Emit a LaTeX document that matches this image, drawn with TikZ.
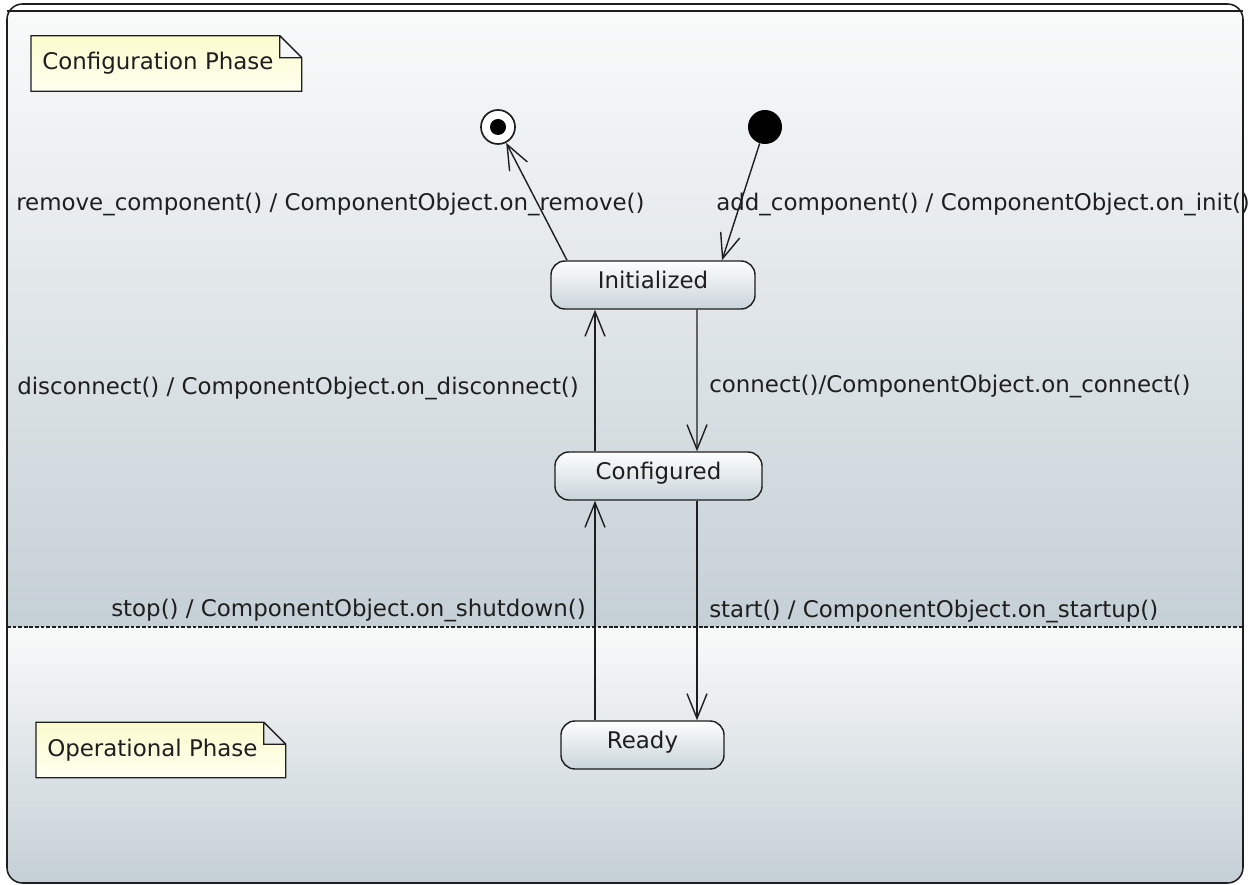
\documentclass[tikz,border=0pt]{standalone}
\usepackage{fontspec}
\setmainfont{DejaVu Sans}
\usetikzlibrary{positioning,arrows.meta,backgrounds}
\definecolor{inkcol}{RGB}{30,30,30}
\definecolor{statetop}{RGB}{253,254,254}
\definecolor{statebot}{RGB}{201,212,218}
\definecolor{regtop}{RGB}{249,250,250}
\definecolor{regbot}{RGB}{197,208,214}
\definecolor{notetop}{RGB}{251,251,205}
\definecolor{notebot}{RGB}{255,255,240}
\newcommand{\umlfont}{\fontsize{16.3pt}{19.5pt}\selectfont}

\begin{document}
\begin{tikzpicture}[x=0.025cm, y=-0.025cm,
  state/.style={rectangle, draw=inkcol, line width=1pt, rounded corners=10pt,
                top color=statetop, bottom color=statebot, font=\umlfont, text=inkcol,
                minimum width=#1, minimum height=1.2cm, inner sep=0pt,
                text height=0.425cm, text depth=0.25cm},
  initst/.style={circle, fill=black, minimum size=0.85cm, inner sep=0pt},
  finalst/.style={circle, draw=inkcol, line width=1.2pt, fill=white, minimum size=0.85cm,
                  inner sep=0pt, path picture={\fill[black] (path picture bounding box.center) circle (0.2cm);}},
  notetxt/.style={font=\umlfont, text=inkcol, anchor=west, inner sep=0pt, minimum height=1.375cm},
  notebox/.style={draw=inkcol, line width=1pt, top color=notetop, bottom color=notebot},
  lbl/.style={font=\umlfont, text=inkcol, anchor=west, inner sep=0pt},
  tr/.style={-{Straight Barb[length=0.62cm, width=0.5cm]}, line width=1pt, inkcol},
]
\useasboundingbox (0,0) rectangle (1256,885);

% composite state with its two regions
\begin{scope}[on background layer]
  \begin{scope}
    \clip[rounded corners=11pt] (7,4) rectangle (1243,883);
    \fill[white] (7,4) rectangle (1243,11);
    \shade[top color=regtop, bottom color=regbot] (7,11) rectangle (1243,627);
    \shade[top color=regtop, bottom color=regbot] (7,627) rectangle (1243,883);
  \end{scope}
  \draw[inkcol, line width=1.1pt, rounded corners=11pt] (7,4) rectangle (1243,883);
  \draw[inkcol, line width=0.9pt] (7,11) -- (1243,11);
  \draw[inkcol, line width=0.9pt, dash pattern=on 2.6pt off 1.4pt] (7,627) -- (1243,627);
\end{scope}

\node[finalst] (final) at (498,127) {};
\node[initst]  (start) at (765,127) {};

\node[state=5.1cm]   (init)  at (653,285)   {Initialized};
\node[state=5.175cm] (cfg)   at (658.5,476) {Configured};
\node[state=4.075cm] (ready) at (642.5,745) {Ready};

\draw[tr] ([shift={(-86,0)}]init.north) -- (final);
\draw[tr] (start) -- ([shift={(69,0)}]init.north);
\draw[tr] ([shift={(44,0)}]init.south) -- ([shift={(38.5,0)}]cfg.north);
\draw[tr] ([shift={(-63.5,0)}]cfg.north) -- ([shift={(-58,0)}]init.south);
\draw[tr] ([shift={(38.5,0)}]cfg.south) -- ([shift={(54.5,0)}]ready.north);
\draw[tr] ([shift={(-47.5,0)}]ready.north) -- ([shift={(-63.5,0)}]cfg.south);

% transition labels
\foreach \nm/\x/\y/\txt in {
  rmlbl/16/204/{remove\_component() / ComponentObject.on\_remove()},
  addlbl/716/204/{add\_component() / ComponentObject.on\_init()},
  dislbl/17/388/{disconnect() / ComponentObject.on\_disconnect()},
  conlbl/709/386/{connect()/ComponentObject.on\_connect()},
  stoplbl/111/610/{stop() / ComponentObject.on\_shutdown()},
  startlbl/709/611/{start() / ComponentObject.on\_startup()}
} { \node[lbl] (\nm) at (\x,\y) {\txt}; }

% phase notes
\node[notetxt] (cfgnote) at (42,63.5) {Configuration Phase};
\node[notetxt] (opnote)  at (47,750)  {Operational Phase};
\begin{scope}[on background layer]
  \foreach \n in {cfgnote,opnote}
    \draw[notebox] ([shift={(-11,0)}]\n.south west) -- ([shift={(-11,0)}]\n.north west)
      -- ([shift={(6,0)}]\n.north east) -- ([shift={(28,22)}]\n.north east)
      -- ([shift={(28,0)}]\n.south east) -- cycle
      ([shift={(6,0)}]\n.north east) |- ([shift={(28,22)}]\n.north east);
\end{scope}

\end{tikzpicture}
\end{document}
